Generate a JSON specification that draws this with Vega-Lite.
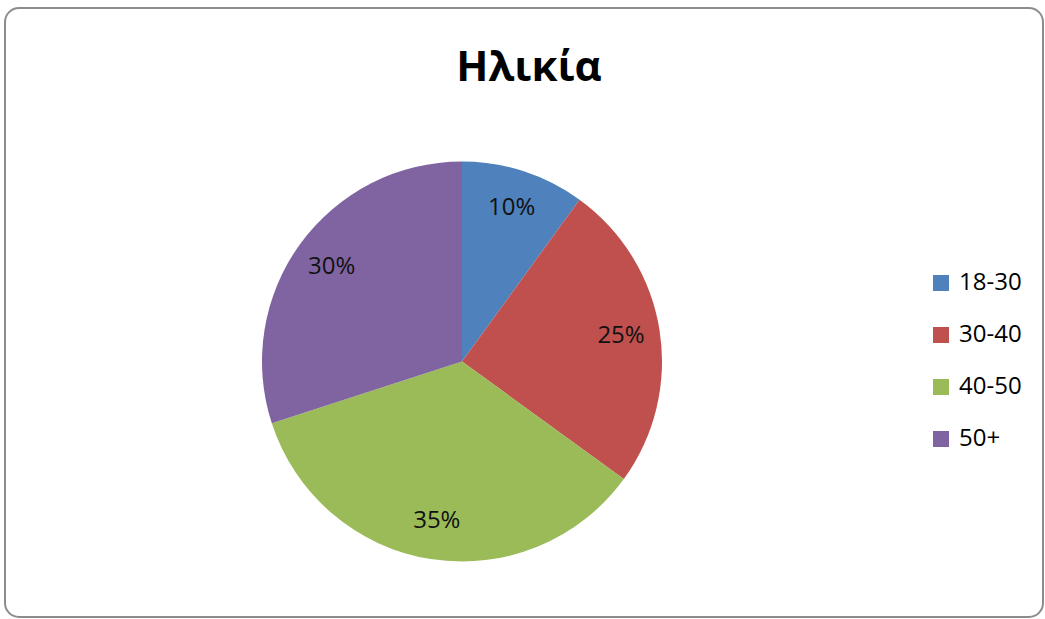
{
  "$schema": "https://vega.github.io/schema/vega-lite/v6.json",
  "width": 1038,
  "height": 609,
  "padding": {"left": 5, "top": 8, "right": 2, "bottom": 2},
  "background": "white",
  "view": {"stroke": "#8c8c8c", "strokeWidth": 2, "cornerRadius": 14, "fill": "white"},
  "config": {
    "font": "Open Sans"
  },
  "title": {
    "text": "Ηλικία",
    "orient": "top",
    "anchor": "middle",
    "offset": -82,
    "dx": 5,
    "font": "Open Sans",
    "fontSize": 42,
    "fontWeight": "bold",
    "color": "#000000"
  },
  "data": {
    "values": [
      {"age": "18-30", "rank": 1, "pct": 10, "label": "10%"},
      {"age": "30-40", "rank": 2, "pct": 25, "label": "25%"},
      {"age": "40-50", "rank": 3, "pct": 35, "label": "35%"},
      {"age": "50+", "rank": 4, "pct": 30, "label": "30%"}
    ]
  },
  "encoding": {
    "theta": {"field": "pct", "type": "quantitative", "stack": true},
    "order": {"field": "rank", "type": "quantitative", "sort": "ascending"}
  },
  "layer": [
    {
      "mark": {"type": "arc", "outerRadius": 200, "xOffset": -62, "yOffset": 49},
      "encoding": {
        "color": {
          "field": "age",
          "type": "nominal",
          "scale": {
            "domain": ["18-30", "30-40", "40-50", "50+"],
            "range": ["#4F81BD", "#C0504D", "#9BBB59", "#8064A2"]
          },
          "legend": {
            "title": null,
            "orient": "none",
            "legendX": 924,
            "legendY": 263,
            "symbolType": "square",
            "symbolSize": 256,
            "symbolStrokeWidth": 0,
            "labelFontSize": 24,
            "labelFont": "Open Sans",
            "labelColor": "#000000",
            "labelOffset": 6,
            "rowPadding": 28
          }
        }
      }
    },
    {
      "mark": {"type": "text", "radius": 161, "xOffset": -62, "yOffset": 49, "fontSize": 24, "font": "Open Sans", "color": "#111111"},
      "encoding": {
        "text": {"field": "label"},
        "detail": {"field": "age", "type": "nominal"}
      }
    }
  ]
}
